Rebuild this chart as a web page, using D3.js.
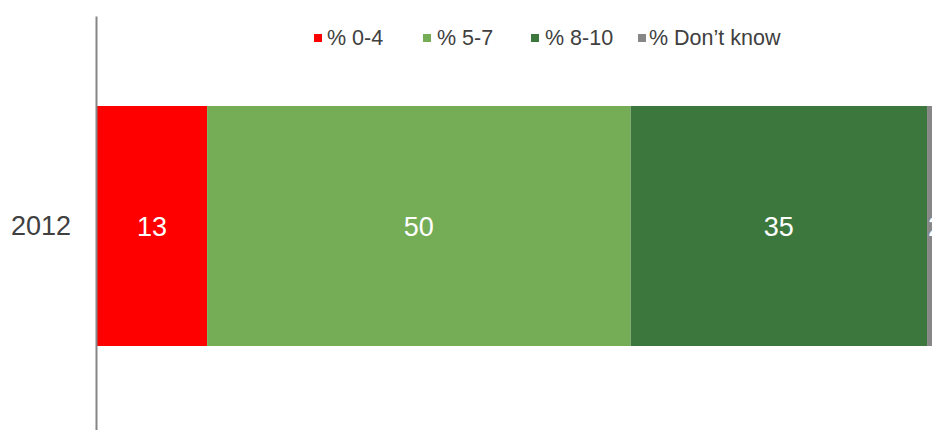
<!DOCTYPE html>
<html>
<head>
<meta charset="utf-8">
<script src="https://cdn.jsdelivr.net/npm/d3@7"></script>
<style>
  body { margin: 0; background: #fff; }
  svg { display: block; font-family: "Liberation Sans", Arial, sans-serif; }
</style>
</head>
<body>
<div id="chart"></div>
<script>
const WIDTH = 932;
const HEIGHT = 430;

// data
const years = ["2012"];
const series = ["% 0-4", "% 5-7", "% 8-10", "% Don\u2019t know"];
const colors = ["#ff0000", "#75ad57", "#3c783e", "#878787"];
const values = [[13, 50, 35, 2]];

function main(){
    let svg = d3.select("#chart")
        .append("svg")
        .attr("width", WIDTH)
        .attr("height", HEIGHT);

    let x = d3.scaleLinear()
        .domain([0, 100])
        .range([97, 944]);

    let y = d3.scaleBand()
        .domain(years)
        .range([16, 436])
        .paddingInner(0)
        .paddingOuter(0.375);

    // stack the segments
    let rows = years.map((yr, i) => {
        let row = {year: yr};
        series.forEach((s, j) => row[s] = values[i][j]);
        return row;
    });
    let stacked = d3.stack().keys(series)(rows);

    let groups = svg.append("g")
        .selectAll("g")
        .data(stacked)
        .enter()
        .append("g")
        .attr("fill", (d, i) => colors[i]);

    groups.selectAll("rect")
        .data(d => d)
        .enter()
        .append("rect")
        .attr("x", d => x(d[0]))
        .attr("width", d => x(d[1]) - x(d[0]))
        .attr("y", d => y(d.data.year))
        .attr("height", y.bandwidth());

    groups.selectAll("text")
        .data(d => d.map(v => ({v: v, key: d.key})))
        .enter()
        .append("text")
        .attr("x", d => (x(d.v[0]) + x(d.v[1])) / 2)
        .attr("y", d => y(d.v.data.year) + y.bandwidth() / 2)
        .attr("dy", "0.36em")
        .attr("text-anchor", "middle")
        .attr("fill", "#ffffff")
        .style("font-size", "27px")
        .text(d => d.v.data[d.key]);

    // category axis
    let axis = svg.append("g")
        .attr("transform", "translate(96,0)")
        .call(d3.axisLeft(y).tickSize(0).tickPadding(25));
    axis.select(".domain")
        .attr("stroke", "#868686")
        .attr("stroke-width", 2);
    axis.selectAll("text")
        .attr("fill", "#404040")
        .style("font-size", "27px")
        .style("font-family", "Liberation Sans, Arial, sans-serif");

    // legend
    let legendX = [314, 423, 531, 638];
    let textOff = [13, 14, 14, 11];
    let legend = svg.append("g")
        .selectAll("g")
        .data(series)
        .enter()
        .append("g")
        .attr("transform", (d, i) => `translate(${legendX[i]},34)`);

    legend.append("rect")
        .attr("width", 8)
        .attr("height", 8)
        .attr("fill", (d, i) => colors[i]);

    legend.append("text")
        .attr("x", (d, i) => textOff[i])
        .attr("y", 10.5)
        .attr("fill", "#404040")
        .style("font-size", "21.5px")
        .text(d => d);
}

window.addEventListener("load", main);
</script>
</body>
</html>
